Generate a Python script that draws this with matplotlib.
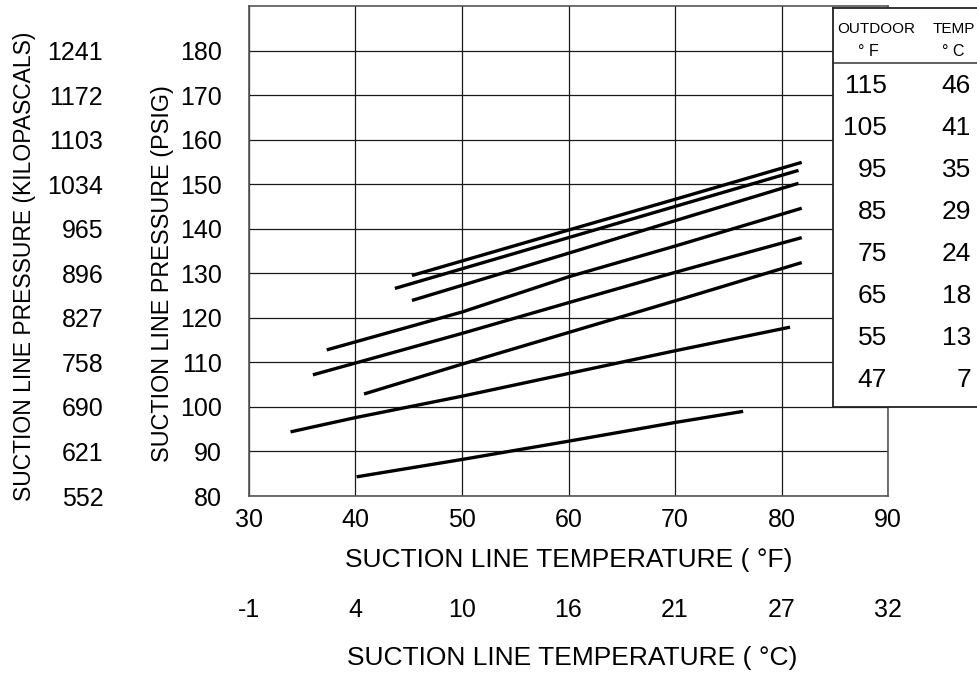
import matplotlib
matplotlib.use("Agg")
import matplotlib.pyplot as plt
from matplotlib.ticker import FixedLocator

plt.rcParams['font.family'] = ['Liberation Sans', 'DejaVu Sans']

# ---------------- data ----------------
temp_f_ticks = [30, 40, 50, 60, 70, 80, 90]
temp_c_labels = ['-1', '4', '10', '16', '21', '27', '32']
psig_ticks = [80, 90, 100, 110, 120, 130, 140, 150, 160, 170, 180]
kpa_labels = ['552', '621', '690', '758', '827', '896', '965', '1034', '1103', '1172', '1241']

outdoor_f = ['115', '105', '95', '85', '75', '65', '55', '47']
outdoor_c = ['46', '41', '35', '29', '24', '18', '13', '7']

t_115 = [45.3, 60.0, 70.0, 81.9]
p_115 = [129.5, 139.7, 146.6, 154.9]
t_105 = [43.7, 60.0, 70.0, 81.6]
p_105 = [126.6, 138.0, 145.0, 153.1]
t_95 = [45.3, 60.0, 70.0, 81.6]
p_95 = [123.9, 134.5, 141.8, 150.2]
t_85 = [37.3, 50.0, 60.0, 70.0, 81.9]
p_85 = [112.8, 121.3, 129.2, 136.1, 144.6]
t_75 = [36.0, 50.0, 60.0, 70.0, 81.9]
p_75 = [107.2, 116.5, 123.4, 130.2, 138.0]
t_65 = [40.8, 50.0, 60.0, 70.0, 81.9]
p_65 = [102.9, 109.6, 116.7, 123.8, 132.4]
t_55 = [33.9, 40.0, 50.0, 60.0, 70.0, 80.8]
p_55 = [94.4, 97.6, 102.4, 107.5, 112.6, 117.9]
t_47 = [40.1, 50.0, 60.0, 70.0, 76.4]
p_47 = [84.3, 88.2, 92.3, 96.5, 99.0]

series_t = [t_115, t_105, t_95, t_85, t_75, t_65, t_55, t_47]
series_p = [p_115, p_105, p_95, p_85, p_75, p_65, p_55, p_47]

# ---------------- figure ----------------
W, H = 978, 675
fig = plt.figure(figsize=(W / 100, H / 100), dpi=100)

L, R, T, B = 249, 888, 6, 496
ax = fig.add_axes([L / W, 1 - B / H, (R - L) / W, (B - T) / H])
ax.set_xlim(30, 90)
ax.set_ylim(80, 190)

for tt, pp in zip(series_t, series_p):
    ax.plot(tt, pp, color='black', lw=2.4, solid_capstyle='butt', zorder=3)

# grid
ax.set_xticks(temp_f_ticks)
ax.set_xticklabels([str(v) for v in temp_f_ticks])
ax.set_yticks(psig_ticks)
ax.set_yticklabels([str(v) for v in psig_ticks])
ax.grid(True, color='#1a1a1a', lw=0.9, zorder=1)
ax.xaxis.set_minor_locator(FixedLocator(temp_f_ticks[1:-1]))
ax.tick_params(axis='x', which='major', length=0, pad=8.5, labelsize=18)
ax.tick_params(axis='x', which='minor', length=7.5, width=0.9, color='#1a1a1a', direction='out')
ax.tick_params(axis='y', which='major', length=0, pad=19.5, labelsize=18)
for s in ax.spines.values():
    s.set_color('#555555')
    s.set_linewidth(1.2)

ax.set_xlabel('SUCTION LINE TEMPERATURE ( °F)', fontsize=19)
ax.xaxis.set_label_coords(0.5, (B - 560) / (B - T))
ax.xaxis.label.set_verticalalignment('center')

ax.set_ylabel('SUCTION LINE PRESSURE (PSIG)', fontsize=16.8)
ax.yaxis.set_label_coords((163 - L) / (R - L), (130 - 80) / 110)
ax.yaxis.label.set_verticalalignment('center')

# kilopascal axis
ax2 = ax.twinx()
ax2.set_ylim(80, 190)
ax2.yaxis.tick_left()
ax2.yaxis.set_label_position('left')
ax2.set_yticks(psig_ticks)
ax2.set_yticklabels(kpa_labels)
ax2.tick_params(axis='y', length=0, pad=105, labelsize=18)
for s in ax2.spines.values():
    s.set_visible(False)
ax2.set_ylabel('SUCTION LINE PRESSURE (KILOPASCALS)', fontsize=16.5)
ax2.yaxis.set_label_coords((25 - L) / (R - L), (131.5 - 80) / 110)
ax2.yaxis.label.set_verticalalignment('center')

# celsius axis
ax3 = ax.twiny()
ax3.set_xlim(30, 90)
ax3.xaxis.set_ticks_position('bottom')
ax3.xaxis.set_label_position('bottom')
ax3.set_xticks(temp_f_ticks)
ax3.set_xticklabels(temp_c_labels)
ax3.tick_params(axis='x', length=0, pad=73.5, labelsize=18)
for s in ax3.spines.values():
    s.set_visible(False)
ax3.set_xlabel('SUCTION LINE TEMPERATURE ( °C)', fontsize=19)
ax3.xaxis.set_label_coords(0.505, (B - 658) / (B - T))
ax3.xaxis.label.set_verticalalignment('center')

# ---------------- outdoor temp table ----------------
tL, tT, tB = 833, 8, 407
tab = fig.add_axes([tL / W, 1 - tB / H, (W - tL + 5) / W, (tB - tT) / H])
tab.set_xlim(tL, W + 5)
tab.set_ylim(tB, tT)
tab.set_xticks([])
tab.set_yticks([])
tab.set_facecolor('white')
tab.spines['right'].set_visible(False)
for k in ('left', 'top', 'bottom'):
    tab.spines[k].set_color('#222222')
    tab.spines[k].set_linewidth(1.3)
tab.set_zorder(5)

tab.text(876.5, 29, 'OUTDOOR', fontsize=11, ha='center', va='center')
tab.text(954, 29, 'TEMP', fontsize=11, ha='center', va='center')
tab.text(868, 51, '° F', fontsize=11.5, ha='center', va='center')
tab.text(953, 51, '° C', fontsize=11.5, ha='center', va='center')
tab.axhline(63, color='#444444', lw=1.2)

for i, (vf, vc) in enumerate(zip(outdoor_f, outdoor_c)):
    y = 86 + 42 * i
    tab.text(887, y, vf, fontsize=19, ha='right', va='center')
    tab.text(971, y, vc, fontsize=19, ha='right', va='center')

fig.savefig('out.png', dpi=100)
